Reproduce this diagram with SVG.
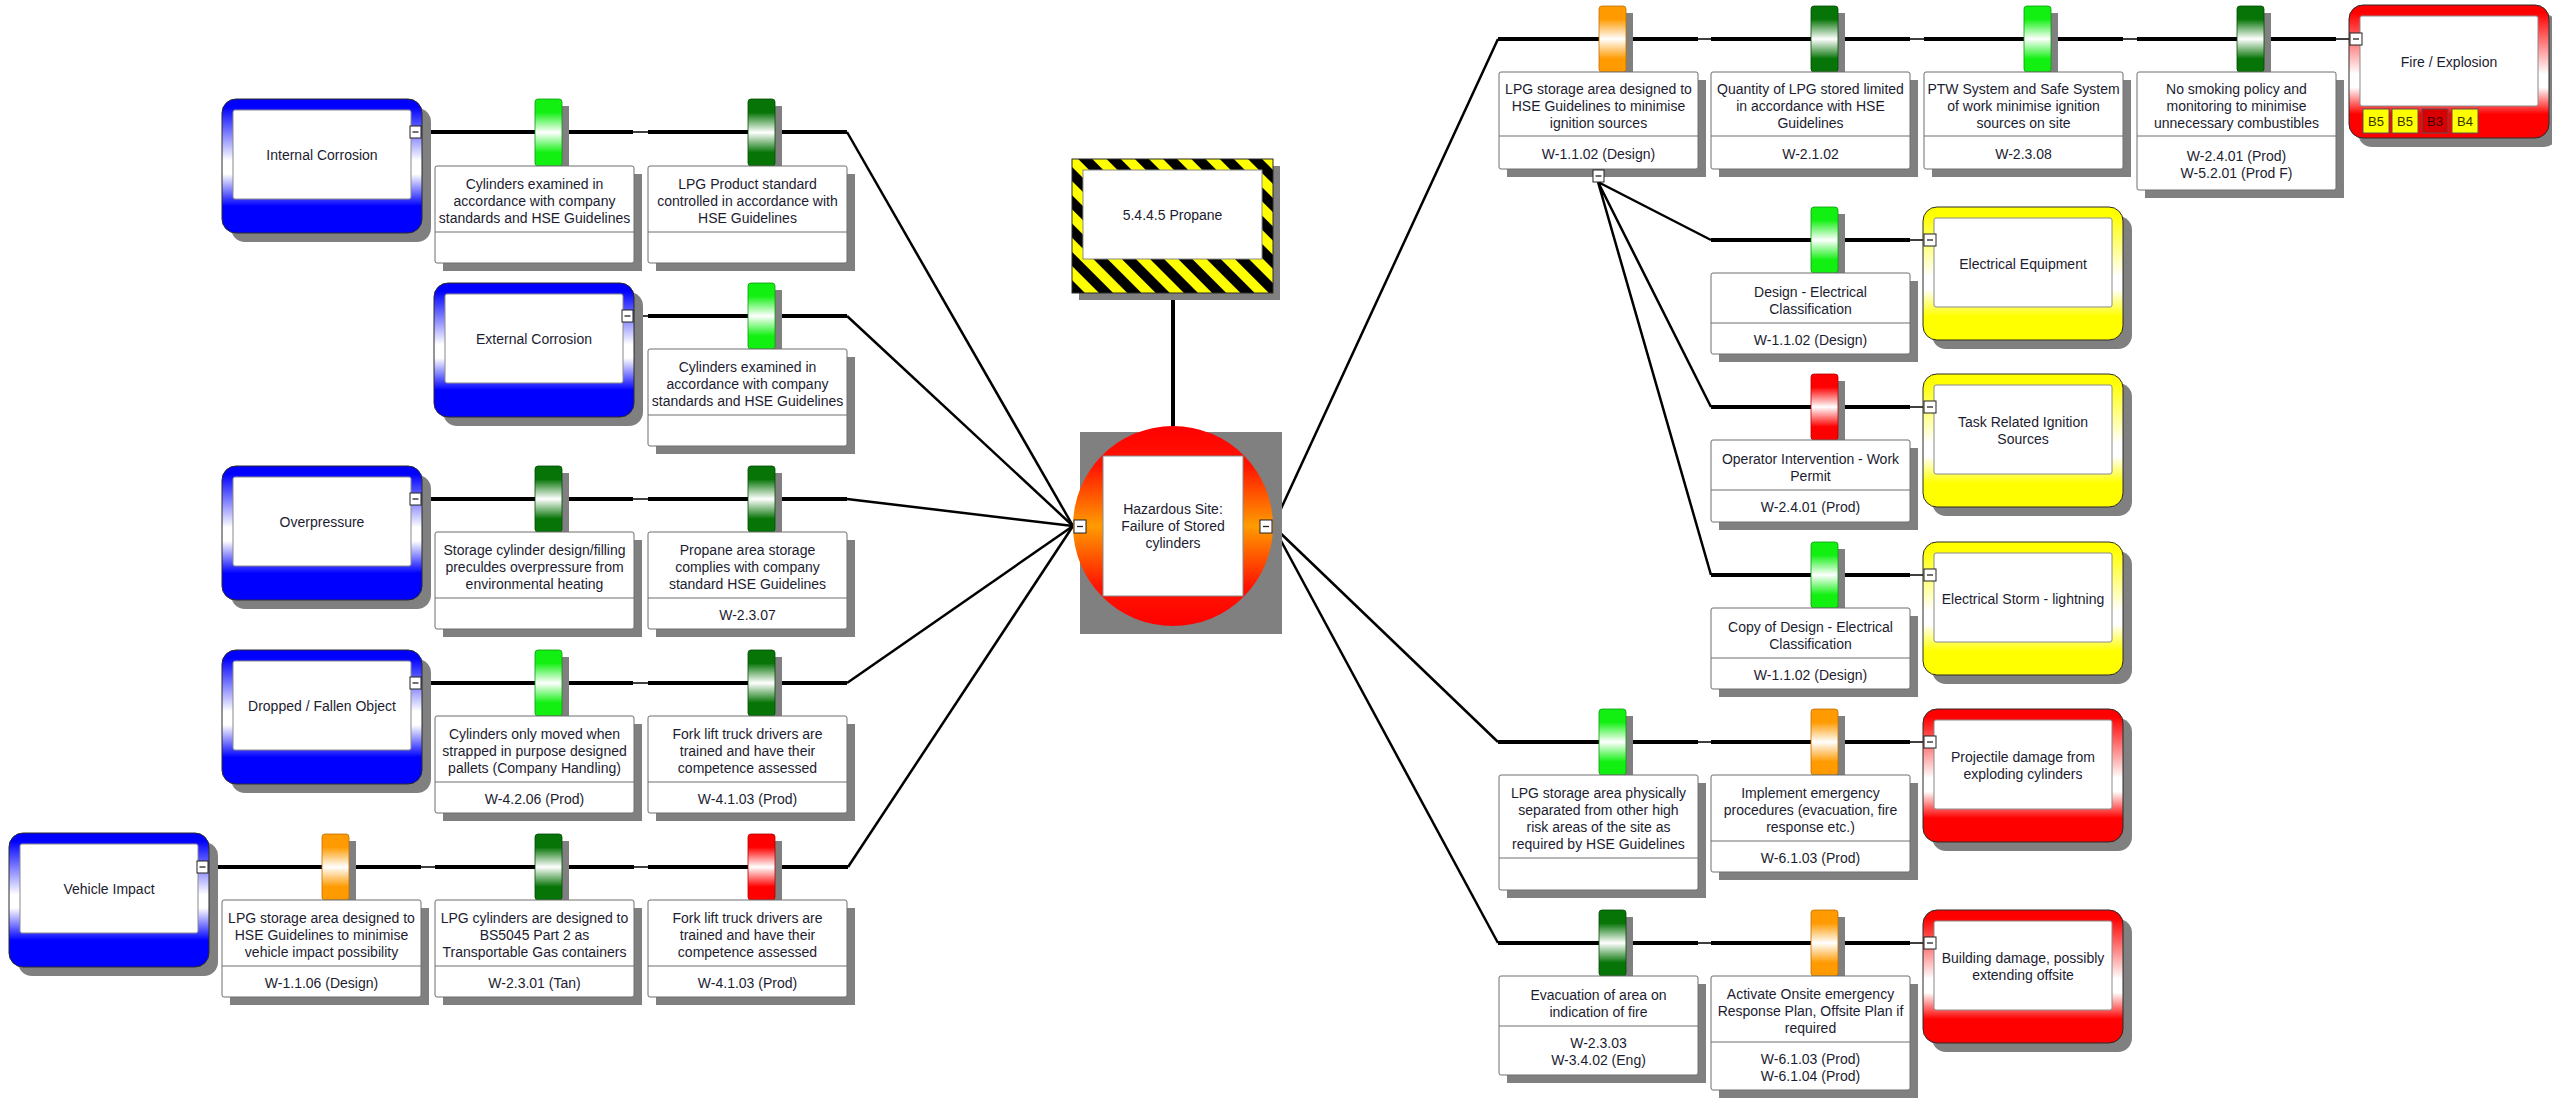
<svg xmlns="http://www.w3.org/2000/svg" width="2552" height="1100" viewBox="0 0 2552 1100">
<defs>
<style>
.sh{fill:#808080}
.box{fill:#fff;stroke:#6e6e6e;stroke-width:1}
.dv{stroke:#6e6e6e;stroke-width:1}
.inner{fill:#fff;stroke:#8a8a8a;stroke-width:1}
.frame{stroke:#2a2a2a;stroke-width:1}
.t{font-family:"Liberation Sans",Arial,sans-serif;font-size:14px;fill:#1c1c30;text-anchor:middle;dominant-baseline:central}
.tk{stroke:#000;stroke-width:4;fill:none}
.tn{stroke:#000;stroke-width:1.5;fill:none}
.dg{stroke:#000;stroke-width:2.5;fill:none}
.tgr{fill:#fff;stroke:#222;stroke-width:1}
.tgl{stroke:#222;stroke-width:1.3}
.barS{stroke-width:0.8}
.bdg{stroke:#555;stroke-width:1}
.bt{font-family:"Liberation Sans",Arial,sans-serif;font-size:13px;text-anchor:middle;dominant-baseline:central}
</style>
<linearGradient id="gBlue" x1="0" y1="0" x2="0" y2="1"><stop offset="0" stop-color="#0000ff"/><stop offset="0.06" stop-color="#0000ff"/><stop offset="0.46" stop-color="#ffffff"/><stop offset="0.56" stop-color="#ffffff"/><stop offset="0.8" stop-color="#0000ff"/><stop offset="1" stop-color="#0000ff"/></linearGradient>
<linearGradient id="gYel" x1="0" y1="0" x2="0" y2="1"><stop offset="0" stop-color="#ffff00"/><stop offset="0.06" stop-color="#ffff00"/><stop offset="0.52" stop-color="#ffffff"/><stop offset="0.62" stop-color="#ffffff"/><stop offset="0.82" stop-color="#ffff00"/><stop offset="1" stop-color="#ffff00"/></linearGradient>
<linearGradient id="gRedC" x1="0" y1="0" x2="0" y2="1"><stop offset="0" stop-color="#ff0000"/><stop offset="0.06" stop-color="#ff0000"/><stop offset="0.52" stop-color="#ffffff"/><stop offset="0.62" stop-color="#ffffff"/><stop offset="0.82" stop-color="#ff0000"/><stop offset="1" stop-color="#ff0000"/></linearGradient>
<linearGradient id="gHaz" x1="0" y1="0" x2="0" y2="1"><stop offset="0" stop-color="#ff0000"/><stop offset="0.2" stop-color="#ff1500"/><stop offset="0.5" stop-color="#ff9c00"/><stop offset="0.8" stop-color="#ff1500"/><stop offset="1" stop-color="#ff0000"/></linearGradient>
<linearGradient id="gLG" x1="0" y1="0" x2="0" y2="1"><stop offset="0" stop-color="#12f012"/><stop offset="0.2" stop-color="#12f012"/><stop offset="0.5" stop-color="#ffffff"/><stop offset="0.8" stop-color="#12f012"/><stop offset="1" stop-color="#12f012"/></linearGradient>
<linearGradient id="gDG" x1="0" y1="0" x2="0" y2="1"><stop offset="0" stop-color="#067406"/><stop offset="0.2" stop-color="#067406"/><stop offset="0.5" stop-color="#ffffff"/><stop offset="0.8" stop-color="#067406"/><stop offset="1" stop-color="#067406"/></linearGradient>
<linearGradient id="gOR" x1="0" y1="0" x2="0" y2="1"><stop offset="0" stop-color="#ff9a00"/><stop offset="0.2" stop-color="#ff9a00"/><stop offset="0.5" stop-color="#ffffff"/><stop offset="0.8" stop-color="#ff9a00"/><stop offset="1" stop-color="#ff9a00"/></linearGradient>
<linearGradient id="gRD" x1="0" y1="0" x2="0" y2="1"><stop offset="0" stop-color="#ff0000"/><stop offset="0.2" stop-color="#ff0000"/><stop offset="0.5" stop-color="#ffffff"/><stop offset="0.8" stop-color="#ff0000"/><stop offset="1" stop-color="#ff0000"/></linearGradient>
<pattern id="hatch" patternUnits="userSpaceOnUse" width="20" height="20" patternTransform="rotate(45)"><rect width="20" height="20" fill="#ffff00"/><rect width="20" height="10" fill="#000"/></pattern>
</defs>
<rect width="2552" height="1100" fill="#fff"/>

<g id="connectors">
<path class="dg" d="M1173 293V426" style="stroke-width:4"/>
<path class="tk" d="M422 132H633M648 132H847"/><path class="tn" d="M633 132H648"/><path class="dg" d="M847 132L1073 526"/>
<path class="tn" d="M634 316H648"/><path class="tk" d="M648 316H847"/><path class="dg" d="M847 316L1073 526"/>
<path class="tk" d="M422 499H633M648 499H847"/><path class="tn" d="M633 499H648"/><path class="dg" d="M847 499L1073 526"/>
<path class="tk" d="M422 683H633M648 683H847"/><path class="tn" d="M633 683H648"/><path class="dg" d="M847 683L1073 526"/>
<path class="tk" d="M209 867H421M435 867H634M648 867H848"/><path class="tn" d="M421 867H435M634 867H648"/><path class="dg" d="M848 867L1073 526"/>
<path class="dg" d="M1273 526L1498 39"/><path class="tk" d="M1498 39H1698M1711 39H1910M1924 39H2123M2137 39H2336"/><path class="tn" d="M1698 39H1711M1910 39H1924M2123 39H2137M2336 39H2350"/>
<path class="dg" d="M1598 182L1711 240M1598 182L1711 407M1598 182L1711 575"/>
<path class="tk" d="M1711 240H1910M1711 407H1910M1711 575H1910"/><path class="tn" d="M1910 240H1924M1910 407H1924M1910 575H1924"/>
<path class="dg" d="M1273 526L1498 742"/><path class="tk" d="M1498 742H1698M1711 742H1910"/><path class="tn" d="M1698 742H1711M1910 742H1924"/>
<path class="dg" d="M1273 526L1498 943"/><path class="tk" d="M1498 943H1698M1711 943H1910"/><path class="tn" d="M1698 943H1711M1910 943H1924"/>
</g>

<g id="hazard-top">
<rect class="sh" x="1079" y="166" width="201" height="134"/>
<rect x="1072" y="159" width="201" height="134" fill="url(#hatch)" class="frame"/>
<rect class="inner" x="1083" y="170" width="179" height="89"/>
<text class="t" x="1172.5" y="215">5.4.4.5 Propane</text>
</g>
<g id="hazard">
<rect class="sh" x="1080" y="432" width="202" height="202"/>
<circle cx="1173" cy="526" r="100" fill="url(#gHaz)"/>
<rect class="inner" x="1103" y="456" width="140" height="140"/>
<text class="t" x="1173" y="509">Hazardous Site:</text>
<text class="t" x="1173" y="526">Failure of Stored</text>
<text class="t" x="1173" y="543">cylinders</text>
<rect class="tgr" x="1074" y="520" width="12" height="13"/><line class="tgl" x1="1077" y1="526.5" x2="1083" y2="526.5"/>
<rect class="tgr" x="1260" y="520" width="12" height="13"/><line class="tgl" x1="1263" y1="526.5" x2="1269" y2="526.5"/>
</g>

<g id="threat-internal-corrosion">
<rect class="sh" x="231" y="108" width="200" height="134" rx="14"/>
<rect class="frame" x="222" y="99" width="200" height="134" rx="14" fill="url(#gBlue)"/>
<rect class="inner" x="233" y="110" width="178" height="89" rx="2"/>
<text class="t" x="322" y="155">Internal Corrosion</text>
<rect class="tgr" x="410" y="126" width="11" height="12"/><line class="tgl" x1="412.5" y1="132" x2="418.5" y2="132"/>
</g>
<g id="threat-external-corrosion">
<rect class="sh" x="443" y="292" width="200" height="134" rx="14"/>
<rect class="frame" x="434" y="283" width="200" height="134" rx="14" fill="url(#gBlue)"/>
<rect class="inner" x="445" y="294" width="178" height="89" rx="2"/>
<text class="t" x="534" y="339">External Corrosion</text>
<rect class="tgr" x="622" y="310" width="11" height="12"/><line class="tgl" x1="624.5" y1="316" x2="630.5" y2="316"/>
</g>
<g id="threat-overpressure">
<rect class="sh" x="231" y="475" width="200" height="134" rx="14"/>
<rect class="frame" x="222" y="466" width="200" height="134" rx="14" fill="url(#gBlue)"/>
<rect class="inner" x="233" y="477" width="178" height="89" rx="2"/>
<text class="t" x="322" y="522">Overpressure</text>
<rect class="tgr" x="410" y="493" width="11" height="12"/><line class="tgl" x1="412.5" y1="499" x2="418.5" y2="499"/>
</g>
<g id="threat-dropped-object">
<rect class="sh" x="231" y="659" width="200" height="134" rx="14"/>
<rect class="frame" x="222" y="650" width="200" height="134" rx="14" fill="url(#gBlue)"/>
<rect class="inner" x="233" y="661" width="178" height="89" rx="2"/>
<text class="t" x="322" y="706">Dropped / Fallen Object</text>
<rect class="tgr" x="410" y="677" width="11" height="12"/><line class="tgl" x1="412.5" y1="683" x2="418.5" y2="683"/>
</g>
<g id="threat-vehicle-impact">
<rect class="sh" x="18" y="842" width="200" height="134" rx="14"/>
<rect class="frame" x="9" y="833" width="200" height="134" rx="14" fill="url(#gBlue)"/>
<rect class="inner" x="20" y="844" width="178" height="89" rx="2"/>
<text class="t" x="109" y="889">Vehicle Impact</text>
<rect class="tgr" x="197" y="861" width="11" height="12"/><line class="tgl" x1="199.5" y1="867" x2="205.5" y2="867"/>
</g>

<g id="barrier-a1">
<rect class="sh" x="443" y="174" width="199" height="97"/>
<rect class="sh" x="542" y="106" width="27" height="60"/>
<rect class="barS" x="535" y="99" width="27" height="67" rx="3" fill="url(#gLG)" stroke="#0a9a0a"/>
<rect class="box" x="435" y="166" width="199" height="97" rx="2"/>
<line class="dv" x1="435" y1="232" x2="634" y2="232"/>
<text class="t" x="534.5" y="184">Cylinders examined in</text>
<text class="t" x="534.5" y="201">accordance with company</text>
<text class="t" x="534.5" y="218">standards and HSE Guidelines</text>
</g>
<g id="barrier-a2">
<rect class="sh" x="656" y="174" width="199" height="97"/>
<rect class="sh" x="755" y="106" width="27" height="60"/>
<rect class="barS" x="748" y="99" width="27" height="67" rx="3" fill="url(#gDG)" stroke="#034a03"/>
<rect class="box" x="648" y="166" width="199" height="97" rx="2"/>
<line class="dv" x1="648" y1="232" x2="847" y2="232"/>
<text class="t" x="747.5" y="184">LPG Product standard</text>
<text class="t" x="747.5" y="201">controlled in accordance with</text>
<text class="t" x="747.5" y="218">HSE Guidelines</text>
</g>
<g id="barrier-b1">
<rect class="sh" x="656" y="357" width="199" height="97"/>
<rect class="sh" x="755" y="290" width="27" height="59"/>
<rect class="barS" x="748" y="283" width="27" height="66" rx="3" fill="url(#gLG)" stroke="#0a9a0a"/>
<rect class="box" x="648" y="349" width="199" height="97" rx="2"/>
<line class="dv" x1="648" y1="415" x2="847" y2="415"/>
<text class="t" x="747.5" y="367">Cylinders examined in</text>
<text class="t" x="747.5" y="384">accordance with company</text>
<text class="t" x="747.5" y="401">standards and HSE Guidelines</text>
</g>
<g id="barrier-c1">
<rect class="sh" x="443" y="540" width="199" height="97"/>
<rect class="sh" x="542" y="473" width="27" height="59"/>
<rect class="barS" x="535" y="466" width="27" height="66" rx="3" fill="url(#gDG)" stroke="#034a03"/>
<rect class="box" x="435" y="532" width="199" height="97" rx="2"/>
<line class="dv" x1="435" y1="598" x2="634" y2="598"/>
<text class="t" x="534.5" y="550">Storage cylinder design/filling</text>
<text class="t" x="534.5" y="567">preculdes overpressure from</text>
<text class="t" x="534.5" y="584">environmental heating</text>
</g>
<g id="barrier-c2">
<rect class="sh" x="656" y="540" width="199" height="97"/>
<rect class="sh" x="755" y="473" width="27" height="59"/>
<rect class="barS" x="748" y="466" width="27" height="66" rx="3" fill="url(#gDG)" stroke="#034a03"/>
<rect class="box" x="648" y="532" width="199" height="97" rx="2"/>
<line class="dv" x1="648" y1="598" x2="847" y2="598"/>
<text class="t" x="747.5" y="550">Propane area storage</text>
<text class="t" x="747.5" y="567">complies with company</text>
<text class="t" x="747.5" y="584">standard HSE Guidelines</text>
<text class="t" x="747.5" y="614.5">W-2.3.07</text>
</g>
<g id="barrier-d1">
<rect class="sh" x="443" y="724" width="199" height="97"/>
<rect class="sh" x="542" y="657" width="27" height="59"/>
<rect class="barS" x="535" y="650" width="27" height="66" rx="3" fill="url(#gLG)" stroke="#0a9a0a"/>
<rect class="box" x="435" y="716" width="199" height="97" rx="2"/>
<line class="dv" x1="435" y1="782" x2="634" y2="782"/>
<text class="t" x="534.5" y="734">Cylinders only moved when</text>
<text class="t" x="534.5" y="751">strapped in purpose designed</text>
<text class="t" x="534.5" y="768">pallets (Company Handling)</text>
<text class="t" x="534.5" y="798.5">W-4.2.06 (Prod)</text>
</g>
<g id="barrier-d2">
<rect class="sh" x="656" y="724" width="199" height="97"/>
<rect class="sh" x="755" y="657" width="27" height="59"/>
<rect class="barS" x="748" y="650" width="27" height="66" rx="3" fill="url(#gDG)" stroke="#034a03"/>
<rect class="box" x="648" y="716" width="199" height="97" rx="2"/>
<line class="dv" x1="648" y1="782" x2="847" y2="782"/>
<text class="t" x="747.5" y="734">Fork lift truck drivers are</text>
<text class="t" x="747.5" y="751">trained and have their</text>
<text class="t" x="747.5" y="768">competence assessed</text>
<text class="t" x="747.5" y="798.5">W-4.1.03 (Prod)</text>
</g>
<g id="barrier-e1">
<rect class="sh" x="230" y="908" width="199" height="97"/>
<rect class="sh" x="329" y="841" width="27" height="59"/>
<rect class="barS" x="322" y="834" width="27" height="66" rx="3" fill="url(#gOR)" stroke="#c07000"/>
<rect class="box" x="222" y="900" width="199" height="97" rx="2"/>
<line class="dv" x1="222" y1="966" x2="421" y2="966"/>
<text class="t" x="321.5" y="918">LPG storage area designed to</text>
<text class="t" x="321.5" y="935">HSE Guidelines to minimise</text>
<text class="t" x="321.5" y="952">vehicle impact possibility</text>
<text class="t" x="321.5" y="982.5">W-1.1.06 (Design)</text>
</g>
<g id="barrier-e2">
<rect class="sh" x="443" y="908" width="199" height="97"/>
<rect class="sh" x="542" y="841" width="27" height="59"/>
<rect class="barS" x="535" y="834" width="27" height="66" rx="3" fill="url(#gDG)" stroke="#034a03"/>
<rect class="box" x="435" y="900" width="199" height="97" rx="2"/>
<line class="dv" x1="435" y1="966" x2="634" y2="966"/>
<text class="t" x="534.5" y="918">LPG cylinders are designed to</text>
<text class="t" x="534.5" y="935">BS5045 Part 2 as</text>
<text class="t" x="534.5" y="952">Transportable Gas containers</text>
<text class="t" x="534.5" y="982.5">W-2.3.01 (Tan)</text>
</g>
<g id="barrier-e3">
<rect class="sh" x="656" y="908" width="199" height="97"/>
<rect class="sh" x="755" y="841" width="27" height="59"/>
<rect class="barS" x="748" y="834" width="27" height="66" rx="3" fill="url(#gRD)" stroke="#b00000"/>
<rect class="box" x="648" y="900" width="199" height="97" rx="2"/>
<line class="dv" x1="648" y1="966" x2="847" y2="966"/>
<text class="t" x="747.5" y="918">Fork lift truck drivers are</text>
<text class="t" x="747.5" y="935">trained and have their</text>
<text class="t" x="747.5" y="952">competence assessed</text>
<text class="t" x="747.5" y="982.5">W-4.1.03 (Prod)</text>
</g>

<g id="barrier-r0-1">
<rect class="sh" x="1507" y="80" width="199" height="97"/>
<rect class="sh" x="1606" y="13" width="27" height="59"/>
<rect class="barS" x="1599" y="6" width="27" height="66" rx="3" fill="url(#gOR)" stroke="#c07000"/>
<rect class="box" x="1499" y="72" width="199" height="97" rx="2"/>
<line class="dv" x1="1499" y1="136" x2="1698" y2="136"/>
<text class="t" x="1598.5" y="89">LPG storage area designed to</text>
<text class="t" x="1598.5" y="106">HSE Guidelines to minimise</text>
<text class="t" x="1598.5" y="123">ignition sources</text>
<text class="t" x="1598.5" y="153.5">W-1.1.02 (Design)</text>
<rect class="tgr" x="1593" y="170" width="11" height="12"/><line class="tgl" x1="1595.5" y1="176" x2="1601.5" y2="176"/>
</g>
<g id="barrier-r0-2">
<rect class="sh" x="1719" y="80" width="199" height="97"/>
<rect class="sh" x="1818" y="13" width="27" height="59"/>
<rect class="barS" x="1811" y="6" width="27" height="66" rx="3" fill="url(#gDG)" stroke="#034a03"/>
<rect class="box" x="1711" y="72" width="199" height="97" rx="2"/>
<line class="dv" x1="1711" y1="136" x2="1910" y2="136"/>
<text class="t" x="1810.5" y="89">Quantity of LPG stored limited</text>
<text class="t" x="1810.5" y="106">in accordance with HSE</text>
<text class="t" x="1810.5" y="123">Guidelines</text>
<text class="t" x="1810.5" y="153.5">W-2.1.02</text>
</g>
<g id="barrier-r0-3">
<rect class="sh" x="1932" y="80" width="199" height="97"/>
<rect class="sh" x="2031" y="13" width="27" height="59"/>
<rect class="barS" x="2024" y="6" width="27" height="66" rx="3" fill="url(#gLG)" stroke="#0a9a0a"/>
<rect class="box" x="1924" y="72" width="199" height="97" rx="2"/>
<line class="dv" x1="1924" y1="136" x2="2123" y2="136"/>
<text class="t" x="2023.5" y="89">PTW System and Safe System</text>
<text class="t" x="2023.5" y="106">of work minimise ignition</text>
<text class="t" x="2023.5" y="123">sources on site</text>
<text class="t" x="2023.5" y="153.5">W-2.3.08</text>
</g>
<g id="barrier-r0-4">
<rect class="sh" x="2145" y="80" width="199" height="118"/>
<rect class="sh" x="2244" y="13" width="27" height="59"/>
<rect class="barS" x="2237" y="6" width="27" height="66" rx="3" fill="url(#gDG)" stroke="#034a03"/>
<rect class="box" x="2137" y="72" width="199" height="118" rx="2"/>
<line class="dv" x1="2137" y1="136" x2="2336" y2="136"/>
<text class="t" x="2236.5" y="89">No smoking policy and</text>
<text class="t" x="2236.5" y="106">monitoring to minimise</text>
<text class="t" x="2236.5" y="123">unnecessary combustibles</text>
<text class="t" x="2236.5" y="155.5">W-2.4.01 (Prod)</text>
<text class="t" x="2236.5" y="172.5">W-5.2.01 (Prod F)</text>
</g>

<g id="barrier-r1">
<rect class="sh" x="1719" y="281" width="199" height="81"/>
<rect class="sh" x="1818" y="214" width="27" height="59"/>
<rect class="barS" x="1811" y="207" width="27" height="66" rx="3" fill="url(#gLG)" stroke="#0a9a0a"/>
<rect class="box" x="1711" y="273" width="199" height="81" rx="2"/>
<line class="dv" x1="1711" y1="323" x2="1910" y2="323"/>
<text class="t" x="1810.5" y="291.5">Design - Electrical</text>
<text class="t" x="1810.5" y="308.5">Classification</text>
<text class="t" x="1810.5" y="339.5">W-1.1.02 (Design)</text>
</g>
<g id="barrier-r2">
<rect class="sh" x="1719" y="448" width="199" height="82"/>
<rect class="sh" x="1818" y="381" width="27" height="59"/>
<rect class="barS" x="1811" y="374" width="27" height="66" rx="3" fill="url(#gRD)" stroke="#b00000"/>
<rect class="box" x="1711" y="440" width="199" height="82" rx="2"/>
<line class="dv" x1="1711" y1="490" x2="1910" y2="490"/>
<text class="t" x="1810.5" y="458.5">Operator Intervention - Work</text>
<text class="t" x="1810.5" y="475.5">Permit</text>
<text class="t" x="1810.5" y="507">W-2.4.01 (Prod)</text>
</g>
<g id="barrier-r3">
<rect class="sh" x="1719" y="616" width="199" height="81"/>
<rect class="sh" x="1818" y="549" width="27" height="59"/>
<rect class="barS" x="1811" y="542" width="27" height="66" rx="3" fill="url(#gLG)" stroke="#0a9a0a"/>
<rect class="box" x="1711" y="608" width="199" height="81" rx="2"/>
<line class="dv" x1="1711" y1="658" x2="1910" y2="658"/>
<text class="t" x="1810.5" y="626.5">Copy of Design - Electrical</text>
<text class="t" x="1810.5" y="643.5">Classification</text>
<text class="t" x="1810.5" y="674.5">W-1.1.02 (Design)</text>
</g>

<g id="barrier-r4-1">
<rect class="sh" x="1507" y="783" width="199" height="115"/>
<rect class="sh" x="1606" y="716" width="27" height="59"/>
<rect class="barS" x="1599" y="709" width="27" height="66" rx="3" fill="url(#gLG)" stroke="#0a9a0a"/>
<rect class="box" x="1499" y="775" width="199" height="115" rx="2"/>
<line class="dv" x1="1499" y1="858" x2="1698" y2="858"/>
<text class="t" x="1598.5" y="793">LPG storage area physically</text>
<text class="t" x="1598.5" y="810">separated from other high</text>
<text class="t" x="1598.5" y="827">risk areas of the site as</text>
<text class="t" x="1598.5" y="844">required by HSE Guidelines</text>
</g>
<g id="barrier-r4-2">
<rect class="sh" x="1719" y="783" width="199" height="97"/>
<rect class="sh" x="1818" y="716" width="27" height="59"/>
<rect class="barS" x="1811" y="709" width="27" height="66" rx="3" fill="url(#gOR)" stroke="#c07000"/>
<rect class="box" x="1711" y="775" width="199" height="97" rx="2"/>
<line class="dv" x1="1711" y1="841" x2="1910" y2="841"/>
<text class="t" x="1810.5" y="793">Implement emergency</text>
<text class="t" x="1810.5" y="810">procedures (evacuation, fire</text>
<text class="t" x="1810.5" y="827">response etc.)</text>
<text class="t" x="1810.5" y="857.5">W-6.1.03 (Prod)</text>
</g>
<g id="barrier-r5-1">
<rect class="sh" x="1507" y="984" width="199" height="99"/>
<rect class="sh" x="1606" y="917" width="27" height="59"/>
<rect class="barS" x="1599" y="910" width="27" height="66" rx="3" fill="url(#gDG)" stroke="#034a03"/>
<rect class="box" x="1499" y="976" width="199" height="99" rx="2"/>
<line class="dv" x1="1499" y1="1026" x2="1698" y2="1026"/>
<text class="t" x="1598.5" y="994.5">Evacuation of area on</text>
<text class="t" x="1598.5" y="1011.5">indication of fire</text>
<text class="t" x="1598.5" y="1043">W-2.3.03</text>
<text class="t" x="1598.5" y="1060">W-3.4.02 (Eng)</text>
</g>
<g id="barrier-r5-2">
<rect class="sh" x="1719" y="984" width="199" height="114"/>
<rect class="sh" x="1818" y="917" width="27" height="59"/>
<rect class="barS" x="1811" y="910" width="27" height="66" rx="3" fill="url(#gOR)" stroke="#c07000"/>
<rect class="box" x="1711" y="976" width="199" height="114" rx="2"/>
<line class="dv" x1="1711" y1="1042" x2="1910" y2="1042"/>
<text class="t" x="1810.5" y="994">Activate Onsite emergency</text>
<text class="t" x="1810.5" y="1011">Response Plan, Offsite Plan if</text>
<text class="t" x="1810.5" y="1028">required</text>
<text class="t" x="1810.5" y="1058.5">W-6.1.03 (Prod)</text>
<text class="t" x="1810.5" y="1075.5">W-6.1.04 (Prod)</text>
</g>

<g id="cons-fire-explosion">
<rect class="sh" x="2358" y="14" width="200" height="133" rx="14"/>
<rect class="frame" x="2349" y="5" width="200" height="133" rx="14" fill="url(#gRedC)"/>
<rect class="inner" x="2360" y="16" width="178" height="90" rx="2"/>
<text class="t" x="2449" y="62">Fire / Explosion</text>
<rect class="tgr" x="2350" y="33" width="12" height="12"/><line class="tgl" x1="2353" y1="39" x2="2359" y2="39"/>
<rect class="bdg" x="2363" y="109" width="26" height="24" fill="#ffff00"/><text class="bt" x="2376" y="121.5" fill="#333300">B5</text>
<rect class="bdg" x="2392" y="109" width="26" height="24" fill="#ffff00"/><text class="bt" x="2405" y="121.5" fill="#333300">B5</text>
<rect class="bdg" x="2422" y="109" width="26" height="24" fill="#d80000"/><text class="bt" x="2435" y="121.5" fill="#3a0000">B3</text>
<rect class="bdg" x="2452" y="109" width="26" height="24" fill="#ffff00"/><text class="bt" x="2465" y="121.5" fill="#333300">B4</text>
</g>
<g id="cons-electrical-equipment">
<rect class="sh" x="1932" y="216" width="200" height="133" rx="14"/>
<rect class="frame" x="1923" y="207" width="200" height="133" rx="14" fill="url(#gYel)"/>
<rect class="inner" x="1934" y="218" width="178" height="89" rx="2"/>
<text class="t" x="2023" y="263.5">Electrical Equipment</text>
<rect class="tgr" x="1924" y="234" width="12" height="12"/><line class="tgl" x1="1927" y1="240" x2="1933" y2="240"/>
</g>
<g id="cons-task-ignition">
<rect class="sh" x="1932" y="383" width="200" height="133" rx="14"/>
<rect class="frame" x="1923" y="374" width="200" height="133" rx="14" fill="url(#gYel)"/>
<rect class="inner" x="1934" y="385" width="178" height="89" rx="2"/>
<text class="t" x="2023" y="422">Task Related Ignition</text>
<text class="t" x="2023" y="439">Sources</text>
<rect class="tgr" x="1924" y="401" width="12" height="12"/><line class="tgl" x1="1927" y1="407" x2="1933" y2="407"/>
</g>
<g id="cons-electrical-storm">
<rect class="sh" x="1932" y="551" width="200" height="133" rx="14"/>
<rect class="frame" x="1923" y="542" width="200" height="133" rx="14" fill="url(#gYel)"/>
<rect class="inner" x="1934" y="553" width="178" height="89" rx="2"/>
<text class="t" x="2023" y="598.5">Electrical Storm - lightning</text>
<rect class="tgr" x="1924" y="569" width="12" height="12"/><line class="tgl" x1="1927" y1="575" x2="1933" y2="575"/>
</g>
<g id="cons-projectile">
<rect class="sh" x="1932" y="718" width="200" height="133" rx="14"/>
<rect class="frame" x="1923" y="709" width="200" height="133" rx="14" fill="url(#gRedC)"/>
<rect class="inner" x="1934" y="720" width="178" height="89" rx="2"/>
<text class="t" x="2023" y="757">Projectile damage from</text>
<text class="t" x="2023" y="774">exploding cylinders</text>
<rect class="tgr" x="1924" y="736" width="12" height="12"/><line class="tgl" x1="1927" y1="742" x2="1933" y2="742"/>
</g>
<g id="cons-building-damage">
<rect class="sh" x="1932" y="919" width="200" height="133" rx="14"/>
<rect class="frame" x="1923" y="910" width="200" height="133" rx="14" fill="url(#gRedC)"/>
<rect class="inner" x="1934" y="921" width="178" height="89" rx="2"/>
<text class="t" x="2023" y="958">Building damage, possibly</text>
<text class="t" x="2023" y="975">extending offsite</text>
<rect class="tgr" x="1924" y="937" width="12" height="12"/><line class="tgl" x1="1927" y1="943" x2="1933" y2="943"/>
</g>
</svg>
